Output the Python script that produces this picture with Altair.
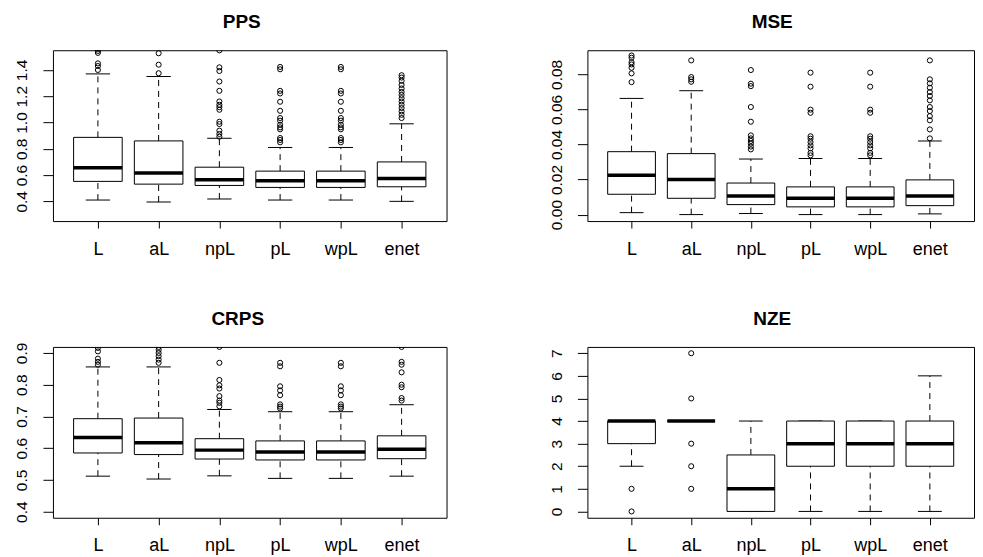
import altair as alt
import pandas as pd

FONT = "Liberation Sans"
METHODS = ["L", "aL", "npL", "pL", "wpL", "enet"]
POS = [1, 2, 3, 4, 5, 6]

# ---------------- PPS ----------------
PPS_LW = [0.410, 0.395, 0.418, 0.410, 0.410, 0.400]
PPS_Q1 = [0.552, 0.531, 0.521, 0.506, 0.506, 0.511]
PPS_MED = [0.655, 0.615, 0.564, 0.557, 0.557, 0.574]
PPS_Q3 = [0.887, 0.860, 0.660, 0.630, 0.630, 0.700]
PPS_UW = [1.370, 1.350, 0.880, 0.810, 0.810, 0.990]
PPS_OUT_L = [1.40, 1.43, 1.45, 1.53, 1.545, 1.56]
PPS_OUT_AL = [1.375, 1.44, 1.527]
PPS_OUT_NPL = [0.892, 0.913, 0.938, 0.988, 1.006, 1.097, 1.117, 1.135, 1.16, 1.241, 1.312, 1.392, 1.42, 1.549]
PPS_OUT_PL = [0.849, 0.867, 0.882, 0.948, 0.963, 0.983, 1.014, 1.034, 1.089, 1.158, 1.221, 1.241, 1.405, 1.423]
PPS_OUT_WPL = [0.849, 0.867, 0.882, 0.948, 0.963, 0.983, 1.014, 1.034, 1.089, 1.158, 1.221, 1.241, 1.405, 1.423]
PPS_OUT_ENET = [1.034, 1.059, 1.084, 1.11, 1.135, 1.16, 1.185, 1.21, 1.233, 1.259, 1.286, 1.317, 1.342, 1.36]
PPS_TICKS = [0.4, 0.6, 0.8, 1.0, 1.2, 1.4]

# ---------------- MSE ----------------
MSE_LW = [0.0011, 0.0000, 0.0006, 0.0000, 0.0000, 0.0004]
MSE_Q1 = [0.0116, 0.0093, 0.0057, 0.0044, 0.0044, 0.0051]
MSE_MED = [0.0224, 0.0200, 0.0106, 0.0093, 0.0093, 0.0106]
MSE_Q3 = [0.0359, 0.0348, 0.0180, 0.0158, 0.0158, 0.0198]
MSE_UW = [0.0663, 0.0707, 0.0317, 0.0320, 0.0320, 0.0420]
MSE_OUT_L = [0.0756, 0.0806, 0.0838, 0.0857, 0.0870, 0.0895, 0.0908]
MSE_OUT_AL = [0.0758, 0.0772, 0.0785, 0.0880]
MSE_OUT_NPL = [0.0372, 0.0388, 0.0405, 0.0420, 0.0435, 0.0452, 0.0530, 0.0614, 0.0733, 0.0747, 0.0825]
MSE_OUT_PL = [0.0338, 0.0352, 0.0378, 0.0395, 0.0414, 0.0433, 0.0447, 0.0581, 0.0599, 0.0730, 0.0810]
MSE_OUT_WPL = [0.0338, 0.0352, 0.0378, 0.0395, 0.0414, 0.0433, 0.0447, 0.0581, 0.0599, 0.0730, 0.0810]
MSE_OUT_ENET = [0.0435, 0.0486, 0.0538, 0.0562, 0.0591, 0.0614, 0.0652, 0.0677, 0.0699, 0.0724, 0.0749, 0.0772, 0.0880]
MSE_TICKS = [0.00, 0.02, 0.04, 0.06, 0.08]

# ---------------- CRPS ----------------
CRPS_LW = [0.512, 0.503, 0.513, 0.505, 0.505, 0.512]
CRPS_Q1 = [0.585, 0.580, 0.566, 0.563, 0.563, 0.567]
CRPS_MED = [0.634, 0.617, 0.594, 0.588, 0.588, 0.597]
CRPS_Q3 = [0.693, 0.695, 0.630, 0.623, 0.623, 0.639]
CRPS_UW = [0.856, 0.856, 0.722, 0.715, 0.715, 0.737]
CRPS_OUT_L = [0.863, 0.872, 0.882, 0.905, 0.916]
CRPS_OUT_AL = [0.869, 0.879, 0.890, 0.900, 0.910, 0.919]
CRPS_OUT_NPL = [0.732, 0.743, 0.750, 0.764, 0.788, 0.798, 0.815, 0.869, 0.919]
CRPS_OUT_PL = [0.725, 0.731, 0.738, 0.767, 0.782, 0.795, 0.858, 0.869]
CRPS_OUT_WPL = [0.725, 0.731, 0.738, 0.767, 0.782, 0.795, 0.858, 0.869]
CRPS_OUT_ENET = [0.750, 0.758, 0.792, 0.800, 0.839, 0.863, 0.872, 0.919]
CRPS_TICKS = [0.4, 0.5, 0.6, 0.7, 0.8, 0.9]

# ---------------- NZE ----------------
NZE_LW = [2, 4, 0, 0, 0, 0]
NZE_Q1 = [3, 4, 0, 2, 2, 2]
NZE_MED = [4, 4, 1, 3, 3, 3]
NZE_Q3 = [4, 4, 2.5, 4, 4, 4]
NZE_UW = [4, 4, 4, 4, 4, 6]
NZE_OUT_L = [1, 0]
NZE_OUT_AL = [7, 5, 3, 2, 1]
NZE_OUT_NPL = []
NZE_OUT_PL = []
NZE_OUT_WPL = []
NZE_OUT_ENET = []
NZE_TICKS = [0, 1, 2, 3, 4, 5, 6, 7]

X_DOMAIN = [0.26, 6.74]
LABEL_EXPR = "['L','aL','npL','pL','wpL','enet'][datum.value - 1]"
PH = 171


def panel(title, lw, q1, med, q3, uw, outs, domain, ticks, fmt, title_dx, pw):
    box = pd.DataFrame({"pos": POS, "lw": lw, "q1": q1, "med": med, "q3": q3, "uw": uw})
    rows = []
    for p, o in zip(POS, outs):
        for v in o:
            rows.append({"pos": p, "v": v})
    pts = pd.DataFrame(rows if rows else [{"pos": 1, "v": None}])

    xs = alt.Scale(domain=X_DOMAIN, nice=False, zero=False)
    ys = alt.Scale(domain=domain, nice=False, zero=False)
    xaxis = alt.Axis(values=POS, labelExpr=LABEL_EXPR, tickSize=7, labelPadding=26,
                     labelBaseline="alphabetic", labelFontSize=18, labelFont=FONT,
                     domain=False, grid=False, title=None, labelColor="black",
                     tickColor="black", labelOverlap=False)
    yaxis = alt.Axis(values=ticks, format=fmt, tickSize=10, labelPadding=16, labelAngle=270,
                     labelAlign="center", labelBaseline="alphabetic", labelFontSize=15.5,
                     labelFont=FONT, domain=False, grid=False, title=None,
                     labelColor="black", tickColor="black", labelOverlap=False)

    def X(f):
        return alt.X(f, type="quantitative", scale=xs, axis=xaxis, title=None)

    def Y(f):
        return alt.Y(f, type="quantitative", scale=ys, axis=yaxis, title=None)

    base = alt.Chart(box).transform_calculate(
        xl="datum.pos - 0.4", xr="datum.pos + 0.4",
        cl="datum.pos - 0.2", cr="datum.pos + 0.2")

    upper = base.mark_rule(color="black", strokeWidth=1, strokeDash=[6, 5]).encode(
        x=X("pos"), y=Y("q3"), y2="uw")
    lower = base.mark_rule(color="black", strokeWidth=1, strokeDash=[6, 5]).encode(
        x=X("pos"), y=Y("lw"), y2="q1")
    capu = base.mark_rule(color="black", strokeWidth=1).encode(x=X("cl"), x2="cr", y=Y("uw"))
    capl = base.mark_rule(color="black", strokeWidth=1).encode(x=X("cl"), x2="cr", y=Y("lw"))
    rect = base.mark_rect(fill="white", stroke="black", strokeWidth=1).encode(
        x=X("xl"), x2="xr", y=Y("q1"), y2="q3")
    medr = base.mark_rule(color="black", strokeWidth=3.5).encode(x=X("xl"), x2="xr", y=Y("med"))
    points = alt.Chart(pts).mark_point(shape="circle", filled=False, size=26, color="black",
                                        strokeWidth=1, clip=True, opacity=1).encode(
        x=X("pos"), y=Y("v"))
    ttl = alt.Chart(pd.DataFrame({"t": [title]})).mark_text(
        font=FONT, fontSize=19, fontWeight="bold", color="black",
        align="center", baseline="alphabetic").encode(
        text="t:N", x=alt.value(pw / 2 + title_dx), y=alt.value(-22))

    return alt.layer(upper, lower, capu, capl, rect, medr, points, ttl).properties(
        width=pw, height=PH)


p1 = panel("PPS", PPS_LW, PPS_Q1, PPS_MED, PPS_Q3, PPS_UW,
           [PPS_OUT_L, PPS_OUT_AL, PPS_OUT_NPL, PPS_OUT_PL, PPS_OUT_WPL, PPS_OUT_ENET],
           [0.25, 1.55], PPS_TICKS, ".1f", -8, 394)
p2 = panel("MSE", MSE_LW, MSE_Q1, MSE_MED, MSE_Q3, MSE_UW,
           [MSE_OUT_L, MSE_OUT_AL, MSE_OUT_NPL, MSE_OUT_PL, MSE_OUT_WPL, MSE_OUT_ENET],
           [-0.0037, 0.0938], MSE_TICKS, ".2f", -8.5, 387)
p3 = panel("CRPS", CRPS_LW, CRPS_Q1, CRPS_MED, CRPS_Q3, CRPS_UW,
           [CRPS_OUT_L, CRPS_OUT_AL, CRPS_OUT_NPL, CRPS_OUT_PL, CRPS_OUT_WPL, CRPS_OUT_ENET],
           [0.381, 0.919], CRPS_TICKS, ".1f", -12, 394)
p4 = panel("NZE", NZE_LW, NZE_Q1, NZE_MED, NZE_Q3, NZE_UW,
           [NZE_OUT_L, NZE_OUT_AL, NZE_OUT_NPL, NZE_OUT_PL, NZE_OUT_WPL, NZE_OUT_ENET],
           [-0.28, 7.28], NZE_TICKS, "d", -8.5, 387)

chart = alt.concat(p1, p2, p3, p4, columns=2, spacing={"row": 126, "column": 141},
                   bounds="flush").properties(
    padding={"left": 6, "top": 4, "right": 0, "bottom": 0},
    background="white"
).configure_view(stroke="black", strokeWidth=1)

chart.save("out.html", embed_options={"renderer": "svg", "actions": False})
